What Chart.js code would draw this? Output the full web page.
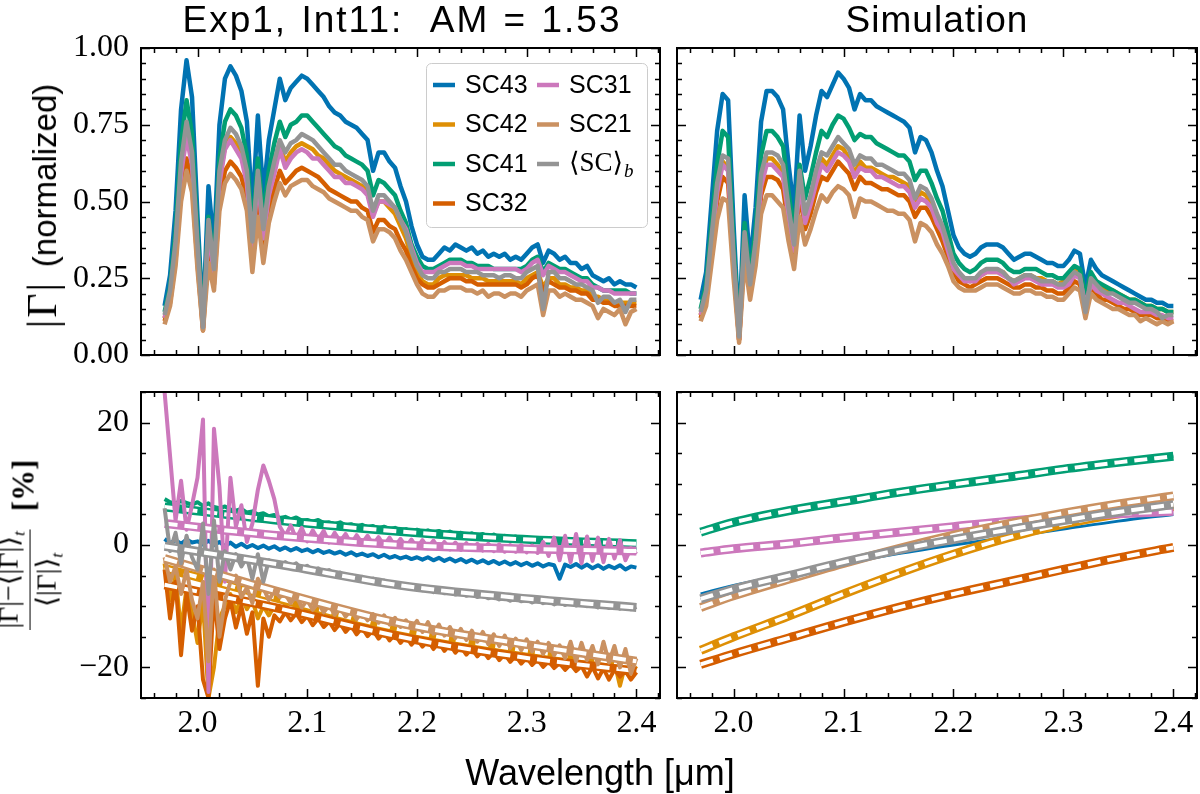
<!DOCTYPE html>
<html>
<head>
<meta charset="utf-8">
<title>Exp1, Int11 spectra</title>
<script src="https://cdn.jsdelivr.net/npm/chart.js@4.4.4/dist/chart.umd.min.js"></script>
<style>
    html, body { margin: 0; padding: 0; background: #fff; }
    #figure { position: relative; width: 1200px; height: 794px; overflow: hidden; }
    canvas { position: absolute; }
    .label { position: absolute; white-space: nowrap; color: #000; line-height: 1; }
    .sans { font-family: "Liberation Sans", Arial, sans-serif; }
    .math { font-family: "Liberation Serif", "DejaVu Serif", serif; }
    .title { font-size: 37px; letter-spacing: 2px; word-spacing: 2px; transform: translateX(-50%); }
    .ylab { transform: translate(-50%, -50%) rotate(-90deg); }
    .frac { display: inline-flex; flex-direction: column; align-items: center; vertical-align: middle; font-size: 28px; }
    .frac .num { border-bottom: 1.5px solid #000; padding: 0 2px 2px; }
    .frac .den { padding-top: 2px; }
    .frac sub { font-style: italic; font-size: 0.62em; }
    .xlab { font-size: 36px; transform: translate(-50%, -50%); }
</style>
</head>
<body>
<div id="figure">
    <canvas id="topLeft" width="668" height="385" style="left:0;top:0"></canvas>
    <canvas id="topRight" width="532" height="385" style="left:668px;top:0"></canvas>
    <canvas id="bottomLeft" width="668" height="424" style="left:0;top:370px"></canvas>
    <canvas id="bottomRight" width="532" height="424" style="left:668px;top:370px"></canvas>

    <div class="label sans title" style="left:402px;top:1px">Exp1, Int11:&nbsp; AM = 1.53</div>
    <div class="label sans title" style="left:937px;top:1px;letter-spacing:1px">Simulation</div>
    <div class="label sans ylab" style="left:42px;top:206px;font-size:33px"><span class="math" style="font-size:42px;letter-spacing:2px;margin-right:14px">|Γ|</span>(normalized)</div>
    <div class="label math ylab" style="left:30px;top:545px">
        <span class="frac"><span class="num">|Γ|−⟨|Γ|⟩<sub>t</sub></span><span class="den">⟨|Γ|⟩<sub>t</sub></span></span>
        <span style="font-size:31px;font-weight:bold;margin-left:14px">[%]</span>
    </div>
    <div class="label sans xlab" style="left:600px;top:773px">Wavelength [μm]</div>
</div>

<script>
// wavelength grid [um], shared by the spectra and the measured residuals
const lambda = [
    1.970, 1.975, 1.980, 1.985, 1.990, 1.995, 2.000, 2.005, 2.010, 2.015,
    2.020, 2.025, 2.030, 2.035, 2.040, 2.045, 2.050, 2.055, 2.060, 2.065,
    2.070, 2.075, 2.080, 2.085, 2.090, 2.095, 2.100, 2.105, 2.110, 2.115,
    2.120, 2.125, 2.130, 2.135, 2.140, 2.145, 2.150, 2.155, 2.160, 2.165,
    2.170, 2.175, 2.180, 2.185, 2.190, 2.195, 2.200, 2.205, 2.210, 2.215,
    2.220, 2.225, 2.230, 2.235, 2.240, 2.245, 2.250, 2.255, 2.260, 2.265,
    2.270, 2.275, 2.280, 2.285, 2.290, 2.295, 2.300, 2.305, 2.310, 2.315,
    2.320, 2.325, 2.330, 2.335, 2.340, 2.345, 2.350, 2.355, 2.360, 2.365,
    2.370, 2.375, 2.380, 2.385, 2.390, 2.395, 2.400
];

const seriesNames = ["SC43", "SC42", "SC41", "SC32", "SC31", "SC21", "⟨SC⟩_b"];
const seriesColors = ["#0173b2", "#de8f05", "#029e73", "#d55e00", "#cc78bc", "#ca9161", "#949494"];

// --- measured |Gamma| (normalized), Exp1 Int11 ---
const expSC43 = [
    0.16, 0.26, 0.47, 0.80, 0.96, 0.84, 0.45, 0.11, 0.55, 0.35,
    0.75, 0.90, 0.94, 0.91, 0.86, 0.76, 0.47, 0.78, 0.52, 0.70,
    0.80, 0.90, 0.83, 0.87, 0.89, 0.91, 0.90, 0.88, 0.86, 0.84,
    0.81, 0.79, 0.78, 0.76, 0.75, 0.74, 0.72, 0.70, 0.60, 0.66,
    0.66, 0.63, 0.61, 0.55, 0.50, 0.42, 0.36, 0.32, 0.31, 0.31,
    0.33, 0.35, 0.34, 0.36, 0.35, 0.34, 0.35, 0.33, 0.34, 0.32,
    0.33, 0.32, 0.33, 0.31, 0.32, 0.31, 0.33, 0.35, 0.36, 0.30,
    0.34, 0.33, 0.31, 0.32, 0.30, 0.30, 0.28, 0.29, 0.26, 0.25,
    0.24, 0.25, 0.23, 0.24, 0.23, 0.23, 0.22
];
const expSC42 = [
    0.12, 0.20, 0.36, 0.61, 0.73, 0.64, 0.34, 0.09, 0.40, 0.27,
    0.57, 0.68, 0.71, 0.69, 0.65, 0.58, 0.36, 0.57, 0.40, 0.53,
    0.61, 0.68, 0.63, 0.66, 0.68, 0.69, 0.68, 0.67, 0.65, 0.64,
    0.62, 0.60, 0.59, 0.58, 0.57, 0.56, 0.55, 0.53, 0.46, 0.50,
    0.50, 0.48, 0.46, 0.42, 0.38, 0.32, 0.27, 0.24, 0.23, 0.23,
    0.25, 0.26, 0.26, 0.26, 0.26, 0.26, 0.25, 0.25, 0.25, 0.24,
    0.24, 0.24, 0.24, 0.24, 0.24, 0.23, 0.25, 0.26, 0.27, 0.22,
    0.25, 0.25, 0.23, 0.23, 0.22, 0.22, 0.21, 0.21, 0.19, 0.19,
    0.18, 0.18, 0.17, 0.17, 0.17, 0.17, 0.17
];
const expSC41 = [
    0.14, 0.22, 0.40, 0.69, 0.83, 0.72, 0.39, 0.10, 0.45, 0.30,
    0.64, 0.76, 0.80, 0.78, 0.74, 0.65, 0.40, 0.64, 0.45, 0.60,
    0.69, 0.76, 0.71, 0.75, 0.76, 0.78, 0.78, 0.76, 0.74, 0.72,
    0.70, 0.68, 0.67, 0.65, 0.64, 0.63, 0.62, 0.60, 0.52, 0.57,
    0.56, 0.54, 0.52, 0.47, 0.43, 0.36, 0.32, 0.29, 0.28, 0.28,
    0.29, 0.30, 0.31, 0.31, 0.31, 0.30, 0.30, 0.29, 0.29, 0.29,
    0.28, 0.28, 0.28, 0.28, 0.28, 0.28, 0.29, 0.31, 0.32, 0.27,
    0.30, 0.29, 0.28, 0.28, 0.27, 0.26, 0.25, 0.25, 0.23, 0.22,
    0.21, 0.21, 0.21, 0.21, 0.21, 0.20, 0.20
];
const expSC32 = [
    0.11, 0.17, 0.31, 0.54, 0.64, 0.56, 0.30, 0.08, 0.36, 0.23,
    0.50, 0.60, 0.63, 0.61, 0.58, 0.51, 0.31, 0.50, 0.35, 0.47,
    0.54, 0.60, 0.56, 0.58, 0.60, 0.61, 0.60, 0.59, 0.58, 0.56,
    0.54, 0.53, 0.52, 0.51, 0.50, 0.50, 0.48, 0.47, 0.40, 0.44,
    0.44, 0.42, 0.41, 0.37, 0.34, 0.29, 0.25, 0.23, 0.22, 0.22,
    0.23, 0.24, 0.25, 0.25, 0.25, 0.24, 0.24, 0.23, 0.23, 0.23,
    0.23, 0.23, 0.23, 0.23, 0.23, 0.22, 0.23, 0.25, 0.26, 0.21,
    0.24, 0.23, 0.22, 0.22, 0.21, 0.21, 0.20, 0.20, 0.18, 0.18,
    0.17, 0.17, 0.16, 0.16, 0.16, 0.16, 0.16
];
const expSC31 = [
    0.12, 0.19, 0.35, 0.59, 0.71, 0.62, 0.33, 0.09, 0.41, 0.26,
    0.56, 0.67, 0.70, 0.67, 0.64, 0.56, 0.35, 0.58, 0.38, 0.52,
    0.59, 0.67, 0.61, 0.64, 0.66, 0.67, 0.66, 0.64, 0.64, 0.62,
    0.60, 0.58, 0.58, 0.56, 0.56, 0.55, 0.54, 0.52, 0.45, 0.50,
    0.50, 0.49, 0.48, 0.44, 0.41, 0.35, 0.30, 0.27, 0.27, 0.27,
    0.28, 0.29, 0.30, 0.30, 0.30, 0.29, 0.29, 0.28, 0.28, 0.28,
    0.28, 0.28, 0.28, 0.28, 0.28, 0.27, 0.28, 0.30, 0.31, 0.26,
    0.29, 0.28, 0.27, 0.27, 0.26, 0.25, 0.24, 0.24, 0.22, 0.22,
    0.21, 0.21, 0.20, 0.20, 0.20, 0.20, 0.20
];
const expSC21 = [
    0.10, 0.16, 0.29, 0.50, 0.60, 0.53, 0.28, 0.08, 0.30, 0.21,
    0.47, 0.56, 0.59, 0.57, 0.54, 0.47, 0.27, 0.45, 0.30, 0.43,
    0.50, 0.56, 0.52, 0.55, 0.56, 0.57, 0.57, 0.55, 0.54, 0.53,
    0.51, 0.50, 0.49, 0.48, 0.47, 0.47, 0.45, 0.44, 0.37, 0.41,
    0.41, 0.40, 0.38, 0.34, 0.31, 0.27, 0.23, 0.20, 0.19, 0.19,
    0.21, 0.21, 0.22, 0.22, 0.22, 0.21, 0.21, 0.20, 0.21, 0.19,
    0.20, 0.20, 0.19, 0.20, 0.20, 0.19, 0.21, 0.22, 0.23, 0.13,
    0.21, 0.21, 0.19, 0.20, 0.19, 0.18, 0.18, 0.17, 0.16, 0.12,
    0.15, 0.14, 0.13, 0.15, 0.10, 0.14, 0.15
];
const expMean = [
    0.13, 0.21, 0.37, 0.63, 0.76, 0.66, 0.36, 0.09, 0.44, 0.28,
    0.60, 0.70, 0.74, 0.72, 0.68, 0.60, 0.37, 0.60, 0.41, 0.55,
    0.63, 0.70, 0.66, 0.69, 0.70, 0.72, 0.71, 0.70, 0.68, 0.66,
    0.64, 0.62, 0.62, 0.60, 0.59, 0.58, 0.57, 0.55, 0.47, 0.52,
    0.52, 0.50, 0.48, 0.44, 0.40, 0.34, 0.29, 0.26, 0.25, 0.25,
    0.27, 0.27, 0.28, 0.28, 0.28, 0.27, 0.27, 0.27, 0.26, 0.26,
    0.26, 0.25, 0.26, 0.26, 0.25, 0.25, 0.27, 0.28, 0.29, 0.15,
    0.27, 0.27, 0.25, 0.25, 0.24, 0.23, 0.23, 0.22, 0.21, 0.17,
    0.19, 0.19, 0.17, 0.18, 0.14, 0.18, 0.18
];

// --- simulated |Gamma| (normalized) ---
const simSC43 = [
    0.18, 0.27, 0.50, 0.73, 0.85, 0.83, 0.42, 0.07, 0.52, 0.30,
    0.48, 0.76, 0.86, 0.86, 0.84, 0.80, 0.62, 0.47, 0.78, 0.60,
    0.68, 0.78, 0.86, 0.84, 0.88, 0.92, 0.90, 0.87, 0.80, 0.85,
    0.83, 0.83, 0.81, 0.80, 0.79, 0.78, 0.77, 0.76, 0.74, 0.66,
    0.71, 0.70, 0.66, 0.60, 0.55, 0.47, 0.39, 0.35, 0.33, 0.32,
    0.33, 0.35, 0.36, 0.36, 0.36, 0.35, 0.33, 0.31, 0.32, 0.33,
    0.33, 0.32, 0.31, 0.30, 0.30, 0.29, 0.29, 0.31, 0.34, 0.33,
    0.22, 0.31, 0.28, 0.26, 0.25, 0.24, 0.23, 0.22, 0.21, 0.20,
    0.19, 0.18, 0.18, 0.17, 0.17, 0.16, 0.16
];
const simSC42 = [
    0.13, 0.20, 0.37, 0.54, 0.63, 0.61, 0.31, 0.05, 0.38, 0.22,
    0.36, 0.56, 0.64, 0.64, 0.62, 0.59, 0.46, 0.35, 0.58, 0.44,
    0.50, 0.58, 0.64, 0.62, 0.65, 0.68, 0.67, 0.64, 0.59, 0.63,
    0.61, 0.61, 0.60, 0.59, 0.58, 0.58, 0.57, 0.56, 0.55, 0.49,
    0.53, 0.52, 0.49, 0.44, 0.41, 0.35, 0.29, 0.26, 0.25, 0.24,
    0.25, 0.26, 0.27, 0.27, 0.27, 0.27, 0.25, 0.24, 0.25, 0.26,
    0.26, 0.25, 0.25, 0.24, 0.24, 0.23, 0.24, 0.25, 0.28, 0.27,
    0.18, 0.26, 0.24, 0.22, 0.21, 0.21, 0.20, 0.19, 0.18, 0.18,
    0.17, 0.16, 0.16, 0.15, 0.15, 0.14, 0.14
];
const simSC41 = [
    0.15, 0.23, 0.43, 0.62, 0.73, 0.71, 0.36, 0.06, 0.43, 0.26,
    0.41, 0.65, 0.73, 0.73, 0.71, 0.68, 0.53, 0.40, 0.62, 0.51,
    0.58, 0.66, 0.73, 0.71, 0.75, 0.78, 0.77, 0.74, 0.70, 0.72,
    0.71, 0.71, 0.69, 0.68, 0.67, 0.66, 0.65, 0.65, 0.63, 0.57,
    0.60, 0.60, 0.56, 0.51, 0.47, 0.40, 0.33, 0.30, 0.28, 0.27,
    0.28, 0.30, 0.31, 0.31, 0.31, 0.30, 0.28, 0.27, 0.27, 0.28,
    0.28, 0.28, 0.27, 0.26, 0.26, 0.25, 0.25, 0.27, 0.29, 0.28,
    0.19, 0.27, 0.24, 0.23, 0.22, 0.21, 0.20, 0.19, 0.18, 0.18,
    0.17, 0.16, 0.16, 0.15, 0.15, 0.14, 0.14
];
const simSC32 = [
    0.12, 0.18, 0.34, 0.50, 0.58, 0.56, 0.29, 0.05, 0.35, 0.20,
    0.33, 0.52, 0.58, 0.58, 0.57, 0.54, 0.42, 0.32, 0.53, 0.41,
    0.46, 0.53, 0.58, 0.57, 0.60, 0.63, 0.61, 0.59, 0.54, 0.58,
    0.56, 0.56, 0.55, 0.54, 0.54, 0.53, 0.52, 0.52, 0.50, 0.45,
    0.48, 0.48, 0.45, 0.41, 0.37, 0.32, 0.27, 0.24, 0.23, 0.22,
    0.23, 0.24, 0.25, 0.25, 0.25, 0.24, 0.23, 0.22, 0.22, 0.23,
    0.23, 0.22, 0.22, 0.21, 0.21, 0.20, 0.20, 0.22, 0.24, 0.23,
    0.15, 0.22, 0.20, 0.18, 0.18, 0.17, 0.16, 0.15, 0.15, 0.14,
    0.13, 0.13, 0.13, 0.12, 0.12, 0.11, 0.11
];
const simSC31 = [
    0.13, 0.19, 0.36, 0.53, 0.62, 0.60, 0.30, 0.05, 0.37, 0.22,
    0.35, 0.55, 0.62, 0.62, 0.60, 0.58, 0.45, 0.34, 0.56, 0.43,
    0.49, 0.56, 0.62, 0.60, 0.63, 0.66, 0.65, 0.63, 0.58, 0.61,
    0.60, 0.60, 0.58, 0.58, 0.57, 0.56, 0.55, 0.55, 0.53, 0.48,
    0.51, 0.50, 0.48, 0.43, 0.40, 0.34, 0.28, 0.26, 0.24, 0.24,
    0.24, 0.26, 0.27, 0.27, 0.27, 0.26, 0.25, 0.23, 0.24, 0.25,
    0.25, 0.24, 0.23, 0.23, 0.23, 0.22, 0.22, 0.23, 0.26, 0.25,
    0.16, 0.23, 0.21, 0.20, 0.19, 0.18, 0.17, 0.17, 0.16, 0.15,
    0.14, 0.14, 0.14, 0.13, 0.13, 0.12, 0.12
];
const simSC21 = [
    0.11, 0.16, 0.30, 0.44, 0.51, 0.50, 0.25, 0.04, 0.31, 0.18,
    0.29, 0.46, 0.52, 0.52, 0.50, 0.48, 0.37, 0.28, 0.45, 0.36,
    0.41, 0.47, 0.52, 0.50, 0.53, 0.55, 0.54, 0.52, 0.45, 0.51,
    0.50, 0.50, 0.49, 0.48, 0.47, 0.47, 0.46, 0.46, 0.44, 0.37,
    0.43, 0.42, 0.40, 0.36, 0.33, 0.29, 0.24, 0.22, 0.21, 0.21,
    0.21, 0.22, 0.23, 0.23, 0.23, 0.22, 0.21, 0.20, 0.20, 0.21,
    0.21, 0.20, 0.20, 0.19, 0.19, 0.18, 0.18, 0.20, 0.22, 0.21,
    0.12, 0.20, 0.18, 0.17, 0.16, 0.15, 0.15, 0.14, 0.13, 0.13,
    0.11, 0.12, 0.11, 0.10, 0.11, 0.10, 0.11
];
const simMean = [
    0.14, 0.21, 0.39, 0.56, 0.65, 0.64, 0.32, 0.06, 0.40, 0.23,
    0.37, 0.59, 0.66, 0.66, 0.65, 0.62, 0.48, 0.36, 0.60, 0.46,
    0.52, 0.60, 0.66, 0.65, 0.68, 0.71, 0.69, 0.67, 0.62, 0.65,
    0.64, 0.64, 0.62, 0.62, 0.61, 0.60, 0.59, 0.59, 0.57, 0.51,
    0.55, 0.54, 0.51, 0.46, 0.42, 0.36, 0.30, 0.27, 0.25, 0.25,
    0.25, 0.27, 0.28, 0.28, 0.28, 0.27, 0.25, 0.24, 0.25, 0.26,
    0.26, 0.25, 0.24, 0.24, 0.24, 0.23, 0.23, 0.25, 0.27, 0.26,
    0.14, 0.25, 0.23, 0.21, 0.20, 0.20, 0.19, 0.18, 0.17, 0.17,
    0.16, 0.15, 0.15, 0.14, 0.12, 0.13, 0.13
];

// --- measured relative deviation [%] ---
const resSC43 = [
    1.0, 0.3, 0.8, 0.2, 0.9, 0.4, 0.6, 0.1, 0.7, 0.0,
    0.5, -0.2, 0.4, -0.3, 0.2, -0.4, 0.0, -0.5, -0.1, -0.6,
    -0.2, -0.8, -0.4, -0.9, -0.5, -1.0, -0.7, -1.2, -0.8, -1.3,
    -1.0, -1.4, -1.1, -1.6, -1.2, -1.7, -1.4, -1.8, -1.5, -2.0,
    -1.6, -2.1, -1.8, -2.2, -1.9, -2.3, -2.0, -2.4, -2.0, -2.5,
    -2.1, -2.6, -2.2, -2.7, -2.3, -2.8, -2.4, -2.9, -2.5, -3.0,
    -2.6, -3.1, -2.7, -3.2, -2.8, -3.3, -2.9, -3.4, -3.0, -3.5,
    -3.1, -3.3, -5.5, -3.2, -3.6, -3.1, -3.7, -3.2, -3.8, -3.3,
    -3.9, -3.4, -3.8, -3.3, -4.0, -3.5, -3.7
];
const resSC42 = [
    -3.0, -9.0, -5.0, -14.0, -7.0, -11.0, -16.0, -9.0, -25.0, -20.0,
    -12.0, -10.0, -8.0, -11.0, -8.5, -10.5, -9.0, -12.0, -10.0, -11.5,
    -10.0, -10.5, -9.8, -11.0, -10.0, -11.4, -10.4, -11.8, -10.8, -12.2,
    -11.2, -12.5, -11.6, -12.9, -11.9, -13.3, -12.3, -13.6, -12.6, -14.0,
    -12.9, -14.3, -13.3, -14.6, -13.6, -15.0, -13.9, -15.3, -14.3, -15.6,
    -14.6, -16.0, -14.9, -16.3, -15.2, -16.6, -15.6, -16.9, -15.9, -17.2,
    -16.2, -17.5, -16.5, -17.8, -16.8, -18.1, -17.1, -18.3, -17.4, -18.6,
    -17.7, -18.9, -18.0, -19.2, -18.2, -19.4, -18.5, -19.8, -18.8, -20.0,
    -19.0, -20.5, -19.2, -23.0, -19.5, -21.0, -19.8
];
const resSC41 = [
    7.5, 7.0, 6.8, 7.2, 6.9, 6.6, 7.0, 6.4, 6.8, 6.2,
    6.0, 6.3, 5.8, 5.6, 5.9, 5.3, 5.5, 5.0, 5.2, 4.7,
    4.9, 4.4, 4.6, 4.2, 4.5, 4.0, 4.1, 3.8, 4.1, 3.6,
    3.7, 3.4, 3.7, 3.2, 3.4, 3.0, 3.3, 2.9, 3.1, 2.7,
    3.0, 2.6, 2.8, 2.4, 2.6, 2.2, 2.5, 2.1, 2.4, 2.0,
    2.3, 1.9, 2.2, 1.7, 2.0, 1.6, 1.9, 1.5, 1.8, 1.3,
    1.7, 1.2, 1.5, 1.0, 1.4, 0.9, 1.2, 0.8, 1.1, 0.7,
    1.0, 0.5, 0.8, 0.3, 0.7, 0.2, 0.5, 0.1, 0.4, -0.2,
    0.3, -0.4, 0.1, -0.6, 0.0, -0.8, -0.5
];
const resSC32 = [
    -4.0, -12.0, -6.0, -18.0, -8.0, -14.0, -10.0, -22.0, -25.0, -8.0,
    -17.0, -12.0, -9.0, -13.5, -10.0, -14.5, -11.0, -23.0, -12.0, -15.0,
    -11.5, -12.5, -11.0, -12.3, -11.2, -12.6, -11.6, -13.1, -12.0, -13.4,
    -12.5, -13.9, -12.8, -14.2, -13.2, -14.6, -13.5, -14.9, -13.9, -15.3,
    -14.2, -15.6, -14.6, -16.0, -14.9, -16.3, -15.3, -16.6, -15.6, -17.0,
    -15.9, -17.3, -16.2, -17.6, -16.6, -17.9, -16.9, -18.2, -17.2, -18.5,
    -17.5, -18.8, -17.8, -19.1, -18.1, -19.4, -18.4, -19.6, -18.7, -19.9,
    -19.0, -20.1, -19.3, -20.4, -19.5, -20.6, -19.8, -21.5, -19.9, -21.8,
    -20.2, -22.0, -20.4, -21.5, -20.6, -22.0, -20.8
];
const resSC31 = [
    25.0, 14.5, 4.0, 10.5, 2.5, 6.5, 11.0, 20.5, -24.0, 19.0,
    9.5, -6.0, 11.0, 3.0, 6.5, 0.5, 3.5, 9.0, 13.0, 10.5,
    7.5, 3.0, 1.5, 3.2, 1.0, 2.8, 0.6, 2.4, 0.9, 2.3,
    0.4, 2.0, 0.6, 1.8, 0.2, 1.6, 0.3, 1.5, 0.0, 1.3,
    -0.1, 1.2, -0.2, 1.0, -0.3, 0.9, -0.5, 0.8, -0.5, 0.7,
    -0.6, 0.5, -0.7, 0.4, -0.8, 0.3, -0.8, 0.2, -0.9, 0.2,
    -1.0, 0.1, -1.1, 0.0, -1.1, 0.0, -1.2, -0.1, -1.3, 0.5,
    -1.8, 1.2, -2.5, 1.5, -2.8, 1.8, -3.0, 1.4, -2.6, 1.2,
    -2.8, 1.0, -2.2, 0.8, -2.5, -0.5, -1.5
];
const resSC21 = [
    -2.0, -6.0, -3.5, -8.0, -4.0, -9.0, -12.0, -6.0, -19.0, -4.0,
    -15.0, -9.0, -6.0, -5.0, -8.5, -7.0, -9.5, -5.5, -7.0, -9.0,
    -7.5, -8.5, -8.0, -9.5, -8.3, -10.2, -9.0, -10.6, -9.4, -11.0,
    -9.8, -11.4, -10.2, -11.7, -10.6, -12.1, -11.0, -12.3, -11.3, -12.7,
    -11.5, -13.0, -11.9, -13.4, -12.3, -13.6, -12.4, -14.2, -12.6, -14.5,
    -13.0, -14.8, -13.4, -15.2, -13.7, -15.5, -14.0, -15.8, -14.2, -16.2,
    -14.6, -16.5, -14.8, -16.8, -15.3, -17.2, -15.4, -17.4, -15.8, -17.8,
    -16.0, -18.0, -16.4, -18.5, -15.8, -19.0, -16.0, -18.8, -16.5, -19.5,
    -15.8, -19.2, -16.5, -20.0, -17.0, -21.0, -18.5
];
const resMean = [
    6.0, -1.0, 2.0, -3.0, 1.5, -2.0, -4.0, 3.5, -8.0, 4.0,
    -6.0, -1.0, -4.0, -1.5, -3.5, -2.0, -5.5, -1.5, -6.0, -2.5,
    -3.0, -3.5, -2.8, -3.5, -3.0, -3.9, -3.4, -4.2, -3.8, -4.6,
    -4.1, -4.9, -4.5, -5.3, -4.9, -5.6, -5.2, -6.0, -5.5, -6.3,
    -5.8, -6.6, -6.2, -6.9, -6.5, -7.2, -6.8, -7.4, -7.1, -7.7,
    -7.3, -7.9, -7.5, -8.1, -7.8, -8.3, -8.0, -8.5, -8.2, -8.7,
    -8.4, -8.9, -8.6, -9.1, -8.7, -9.2, -8.9, -9.4, -9.0, -9.5,
    -9.2, -9.7, -9.3, -9.8, -9.4, -9.9, -9.5, -10.0, -9.7, -10.2,
    -9.8, -10.3, -9.9, -10.4, -10.0, -10.5, -10.1
];

// fitted trends of the measured deviation (white dashed); SC43 has none drawn
const fitLambda = [1.97, 2.075, 2.185, 2.29, 2.40];
const fitSC42 = [-3.8, -8.8, -13.8, -17.0, -19.6];
const fitSC41 = [6.2, 4.0, 2.2, 1.0, 0.2];
const fitSC32 = [-6.5, -10.4, -15.0, -18.2, -20.6];
const fitSC31 = [3.5, 1.5, 0.0, -0.6, -1.0];
const fitSC21 = [-2.2, -7.7, -12.8, -16.0, -19.0];
const fitMean = [-0.2, -3.2, -6.6, -8.6, -10.2];

// --- simulated relative deviation [%] ---
const simLambda = [1.97, 2.00, 2.05, 2.10, 2.15, 2.20, 2.25, 2.30, 2.35, 2.40];
const simResSC43 = [-8.0, -6.6, -4.8, -3.0, -1.4, 0.0, 1.3, 2.6, 3.9, 5.0];
const simResSC42 = [-17.2, -15.0, -11.6, -8.0, -4.6, -1.5, 1.2, 3.4, 5.1, 6.3];
const simResSC41 = [2.1, 3.7, 5.6, 7.1, 8.6, 9.9, 11.1, 12.4, 13.5, 14.5];
const simResSC32 = [-19.5, -17.8, -15.2, -12.6, -10.2, -8.0, -6.0, -4.0, -2.1, -0.4];
const simResSC31 = [-1.3, -0.6, 0.2, 1.2, 2.1, 3.0, 3.9, 4.6, 5.1, 5.5];
const simResSC21 = [-10.2, -8.3, -5.6, -3.0, -0.6, 1.6, 3.5, 5.2, 6.7, 8.0];
const simResMean = [-8.8, -7.2, -5.0, -2.8, -0.8, 0.9, 2.5, 4.0, 5.4, 6.6];

// axis ticks
const xMajor = [2.0, 2.1, 2.2, 2.3, 2.4];
const topYMajor = [0, 0.25, 0.5, 0.75, 1.0];
const bottomYMajor = [-20, 0, 20];

const X_MIN = 1.9485;
const X_MAX = 2.4215;
const tickFont = { family: "'Liberation Serif', 'DejaVu Serif', serif", size: 32 };

function stepTicks(lo, hi, step) {
    const out = [];
    for (let v = lo; v <= hi + 1e-9; v += step) {
        out.push(Number(v.toFixed(4)));
    }
    return out;
}

const xMinor = stepTicks(1.96, 2.42, 0.02);
const topYMinor = stepTicks(0, 1, 0.05);
const bottomYMinor = stepTicks(-25, 25, 5);

function points(xs, ys) {
    return xs.map((x, i) => ({ x, y: ys[i] }));
}

// frame with inward ticks on all four sides, like the matplotlib style
function framePlugin(spec) {
    return {
        id: "frame",
        afterDatasetsDraw(chart) {
            const { ctx, chartArea: a } = chart;
            const xs = chart.scales.x;
            const ys = chart.scales.y;
            const isMajor = (list, v) => list.some(m => Math.abs(m - v) < 1e-6);
            ctx.save();
            ctx.strokeStyle = "#000";
            ctx.lineWidth = 1.5;
            ctx.beginPath();
            const xTick = (v, len) => {
                const p = Math.round(xs.getPixelForValue(v)) + 0.5;
                ctx.moveTo(p, a.bottom); ctx.lineTo(p, a.bottom - len);
                ctx.moveTo(p, a.top); ctx.lineTo(p, a.top + len);
            };
            const yTick = (v, len) => {
                const p = Math.round(ys.getPixelForValue(v)) + 0.5;
                ctx.moveTo(a.left, p); ctx.lineTo(a.left + len, p);
                ctx.moveTo(a.right, p); ctx.lineTo(a.right - len, p);
            };
            spec.xMajor.forEach(v => xTick(v, 9));
            spec.xMinor.filter(v => !isMajor(spec.xMajor, v) && v > X_MIN && v < X_MAX).forEach(v => xTick(v, 5));
            spec.yMajor.forEach(v => yTick(v, 9));
            spec.yMinor.filter(v => !isMajor(spec.yMajor, v)).forEach(v => yTick(v, 5));
            ctx.stroke();
            ctx.lineWidth = 2;
            ctx.strokeRect(a.left, a.top, a.right - a.left, a.bottom - a.top);
            ctx.restore();
        }
    };
}

const legendPlugin = {
    id: "boxLegend",
    afterDraw(chart) {
        const ctx = chart.ctx;
        const bx = 426.5, by = 63.5, bw = 221, bh = 164, r = 5;
        ctx.save();
        ctx.beginPath();
        ctx.moveTo(bx + r, by);
        ctx.lineTo(bx + bw - r, by);
        ctx.arcTo(bx + bw, by, bx + bw, by + r, r);
        ctx.lineTo(bx + bw, by + bh - r);
        ctx.arcTo(bx + bw, by + bh, bx + bw - r, by + bh, r);
        ctx.lineTo(bx + r, by + bh);
        ctx.arcTo(bx, by + bh, bx, by + bh - r, r);
        ctx.lineTo(bx, by + r);
        ctx.arcTo(bx, by, bx + r, by, r);
        ctx.closePath();
        ctx.fillStyle = "rgba(255, 255, 255, 0.8)";
        ctx.fill();
        ctx.strokeStyle = "#cccccc";
        ctx.lineWidth = 1;
        ctx.stroke();

        ctx.textBaseline = "middle";
        ctx.fillStyle = "#000";
        seriesNames.forEach((name, k) => {
            const col = k < 4 ? 0 : 1;
            const row = k < 4 ? k : k - 4;
            const sx = col ? 537 : 433;
            const sy = 85 + row * 39.5;
            ctx.strokeStyle = seriesColors[k];
            ctx.lineWidth = 4.5;
            ctx.beginPath();
            ctx.moveTo(sx, sy);
            ctx.lineTo(sx + 22, sy);
            ctx.stroke();
            const tx = sx + 32;
            if (name.includes("_")) {
                const [base, sub] = name.split("_");
                ctx.font = "27px 'Liberation Serif', 'DejaVu Serif', serif";
                ctx.fillText(base, tx, sy);
                const w = ctx.measureText(base).width;
                ctx.font = "italic 19px 'Liberation Serif', 'DejaVu Serif', serif";
                ctx.fillText(sub, tx + w + 1, sy + 8);
            } else {
                ctx.font = "25px 'Liberation Sans', Arial, sans-serif";
                ctx.fillText(name, tx, sy + 1);
            }
        });
        ctx.restore();
    }
};

function spectrumSets(series) {
    return series.map((ys, k) => ({
        label: seriesNames[k],
        data: points(lambda, ys),
        borderColor: seriesColors[k],
        borderWidth: 4.5,
        borderJoinStyle: "round",
        pointRadius: 0,
        tension: 0,
        clip: 0,
        order: series.length - k
    }));
}

function residualSets(xs, series, fitXs, fits, width, smooth) {
    const sets = [];
    series.forEach((ys, k) => {
        const base = 3 * (series.length - k);
        sets.push({
            label: seriesNames[k],
            data: points(xs, ys),
            borderColor: seriesColors[k],
            borderWidth: width,
            borderJoinStyle: "round",
            pointRadius: 0,
            tension: smooth ? 0.4 : 0,
            cubicInterpolationMode: smooth ? "monotone" : "default",
            clip: 0,
            order: base + 2
        });
        const f = fits[k];
        if (!f) {
            return;
        }
        const fitData = points(fitXs, f);
        sets.push({
            data: fitData,
            borderColor: seriesColors[k],
            borderWidth: 9,
            pointRadius: 0,
            tension: 0.4,
            cubicInterpolationMode: "monotone",
            clip: 0,
            order: base + 1
        });
        sets.push({
            data: fitData,
            borderColor: "#ffffff",
            borderWidth: 4,
            borderDash: [13, 7],
            pointRadius: 0,
            tension: 0.4,
            cubicInterpolationMode: "monotone",
            clip: 0,
            order: base
        });
    });
    return sets;
}

function makeChart(id, datasets, cfg) {
    return new Chart(document.getElementById(id), {
        type: "line",
        data: { datasets },
        options: {
            responsive: false,
            animation: false,
            devicePixelRatio: 1,
            events: [],
            layout: { autoPadding: false, padding: cfg.padding },
            plugins: { legend: { display: false }, tooltip: { enabled: false } },
            scales: {
                x: {
                    type: "linear",
                    min: X_MIN,
                    max: X_MAX,
                    grid: { display: false, drawTicks: false },
                    border: { display: false },
                    ticks: {
                        display: cfg.xLabels,
                        color: "#000",
                        font: tickFont,
                        padding: 6,
                        autoSkip: false,
                        maxRotation: 0,
                        callback: v => Number(v).toFixed(1)
                    },
                    afterBuildTicks(scale) {
                        scale.ticks = xMajor.map(value => ({ value }));
                    },
                    afterFit(scale) {
                        scale.height = cfg.xHeight;
                        scale.paddingLeft = 0;
                        scale.paddingRight = 0;
                    }
                },
                y: {
                    type: "linear",
                    min: cfg.yMin,
                    max: cfg.yMax,
                    grid: { display: false, drawTicks: false },
                    border: { display: false },
                    ticks: {
                        display: cfg.yLabels,
                        color: "#000",
                        font: tickFont,
                        padding: 12,
                        autoSkip: false,
                        callback: cfg.yFormat
                    },
                    afterBuildTicks(scale) {
                        scale.ticks = cfg.yMajor.map(value => ({ value }));
                    },
                    afterFit(scale) {
                        scale.width = cfg.yWidth;
                        scale.paddingTop = 0;
                        scale.paddingBottom = 0;
                    }
                }
            }
        },
        plugins: cfg.legend ? [framePlugin(cfg.frame), legendPlugin] : [framePlugin(cfg.frame)]
    });
}

const fmtTop = v => Number(v).toFixed(2);
const fmtBottom = v => (v < 0 ? "\u2212" + Math.abs(v) : String(v));

const topFrame = { xMajor, xMinor, yMajor: topYMajor, yMinor: topYMinor };
const bottomFrame = { xMajor, xMinor, yMajor: bottomYMajor, yMinor: bottomYMinor };

makeChart("topLeft",
    spectrumSets([expSC43, expSC42, expSC41, expSC32, expSC31, expSC21, expMean]),
    { padding: { left: 0, top: 48, right: 8, bottom: 0 }, yWidth: 141, xHeight: 30,
      yMin: 0, yMax: 1, yMajor: topYMajor, yFormat: fmtTop, yLabels: true, xLabels: false,
      frame: topFrame, legend: true });

makeChart("topRight",
    spectrumSets([simSC43, simSC42, simSC41, simSC32, simSC31, simSC21, simMean]),
    { padding: { left: 0, top: 48, right: 3, bottom: 0 }, yWidth: 9, xHeight: 30,
      yMin: 0, yMax: 1, yMajor: topYMajor, yFormat: fmtTop, yLabels: false, xLabels: false,
      frame: topFrame, legend: false });

makeChart("bottomLeft",
    residualSets(lambda,
        [resSC43, resSC42, resSC41, resSC32, resSC31, resSC21, resMean],
        fitLambda,
        [null, fitSC42, fitSC41, fitSC32, fitSC31, fitSC21, fitMean],
        4, false),
    { padding: { left: 0, top: 22, right: 8, bottom: 0 }, yWidth: 141, xHeight: 96,
      yMin: -25, yMax: 25, yMajor: bottomYMajor, yFormat: fmtBottom, yLabels: true, xLabels: true,
      frame: bottomFrame, legend: false });

makeChart("bottomRight",
    residualSets(simLambda,
        [simResSC43, simResSC42, simResSC41, simResSC32, simResSC31, simResSC21, simResMean],
        simLambda,
        [null, simResSC42, simResSC41, simResSC32, simResSC31, simResSC21, simResMean],
        3, true),
    { padding: { left: 0, top: 22, right: 3, bottom: 0 }, yWidth: 9, xHeight: 96,
      yMin: -25, yMax: 25, yMajor: bottomYMajor, yFormat: fmtBottom, yLabels: false, xLabels: true,
      frame: bottomFrame, legend: false });
</script>
</body>
</html>
